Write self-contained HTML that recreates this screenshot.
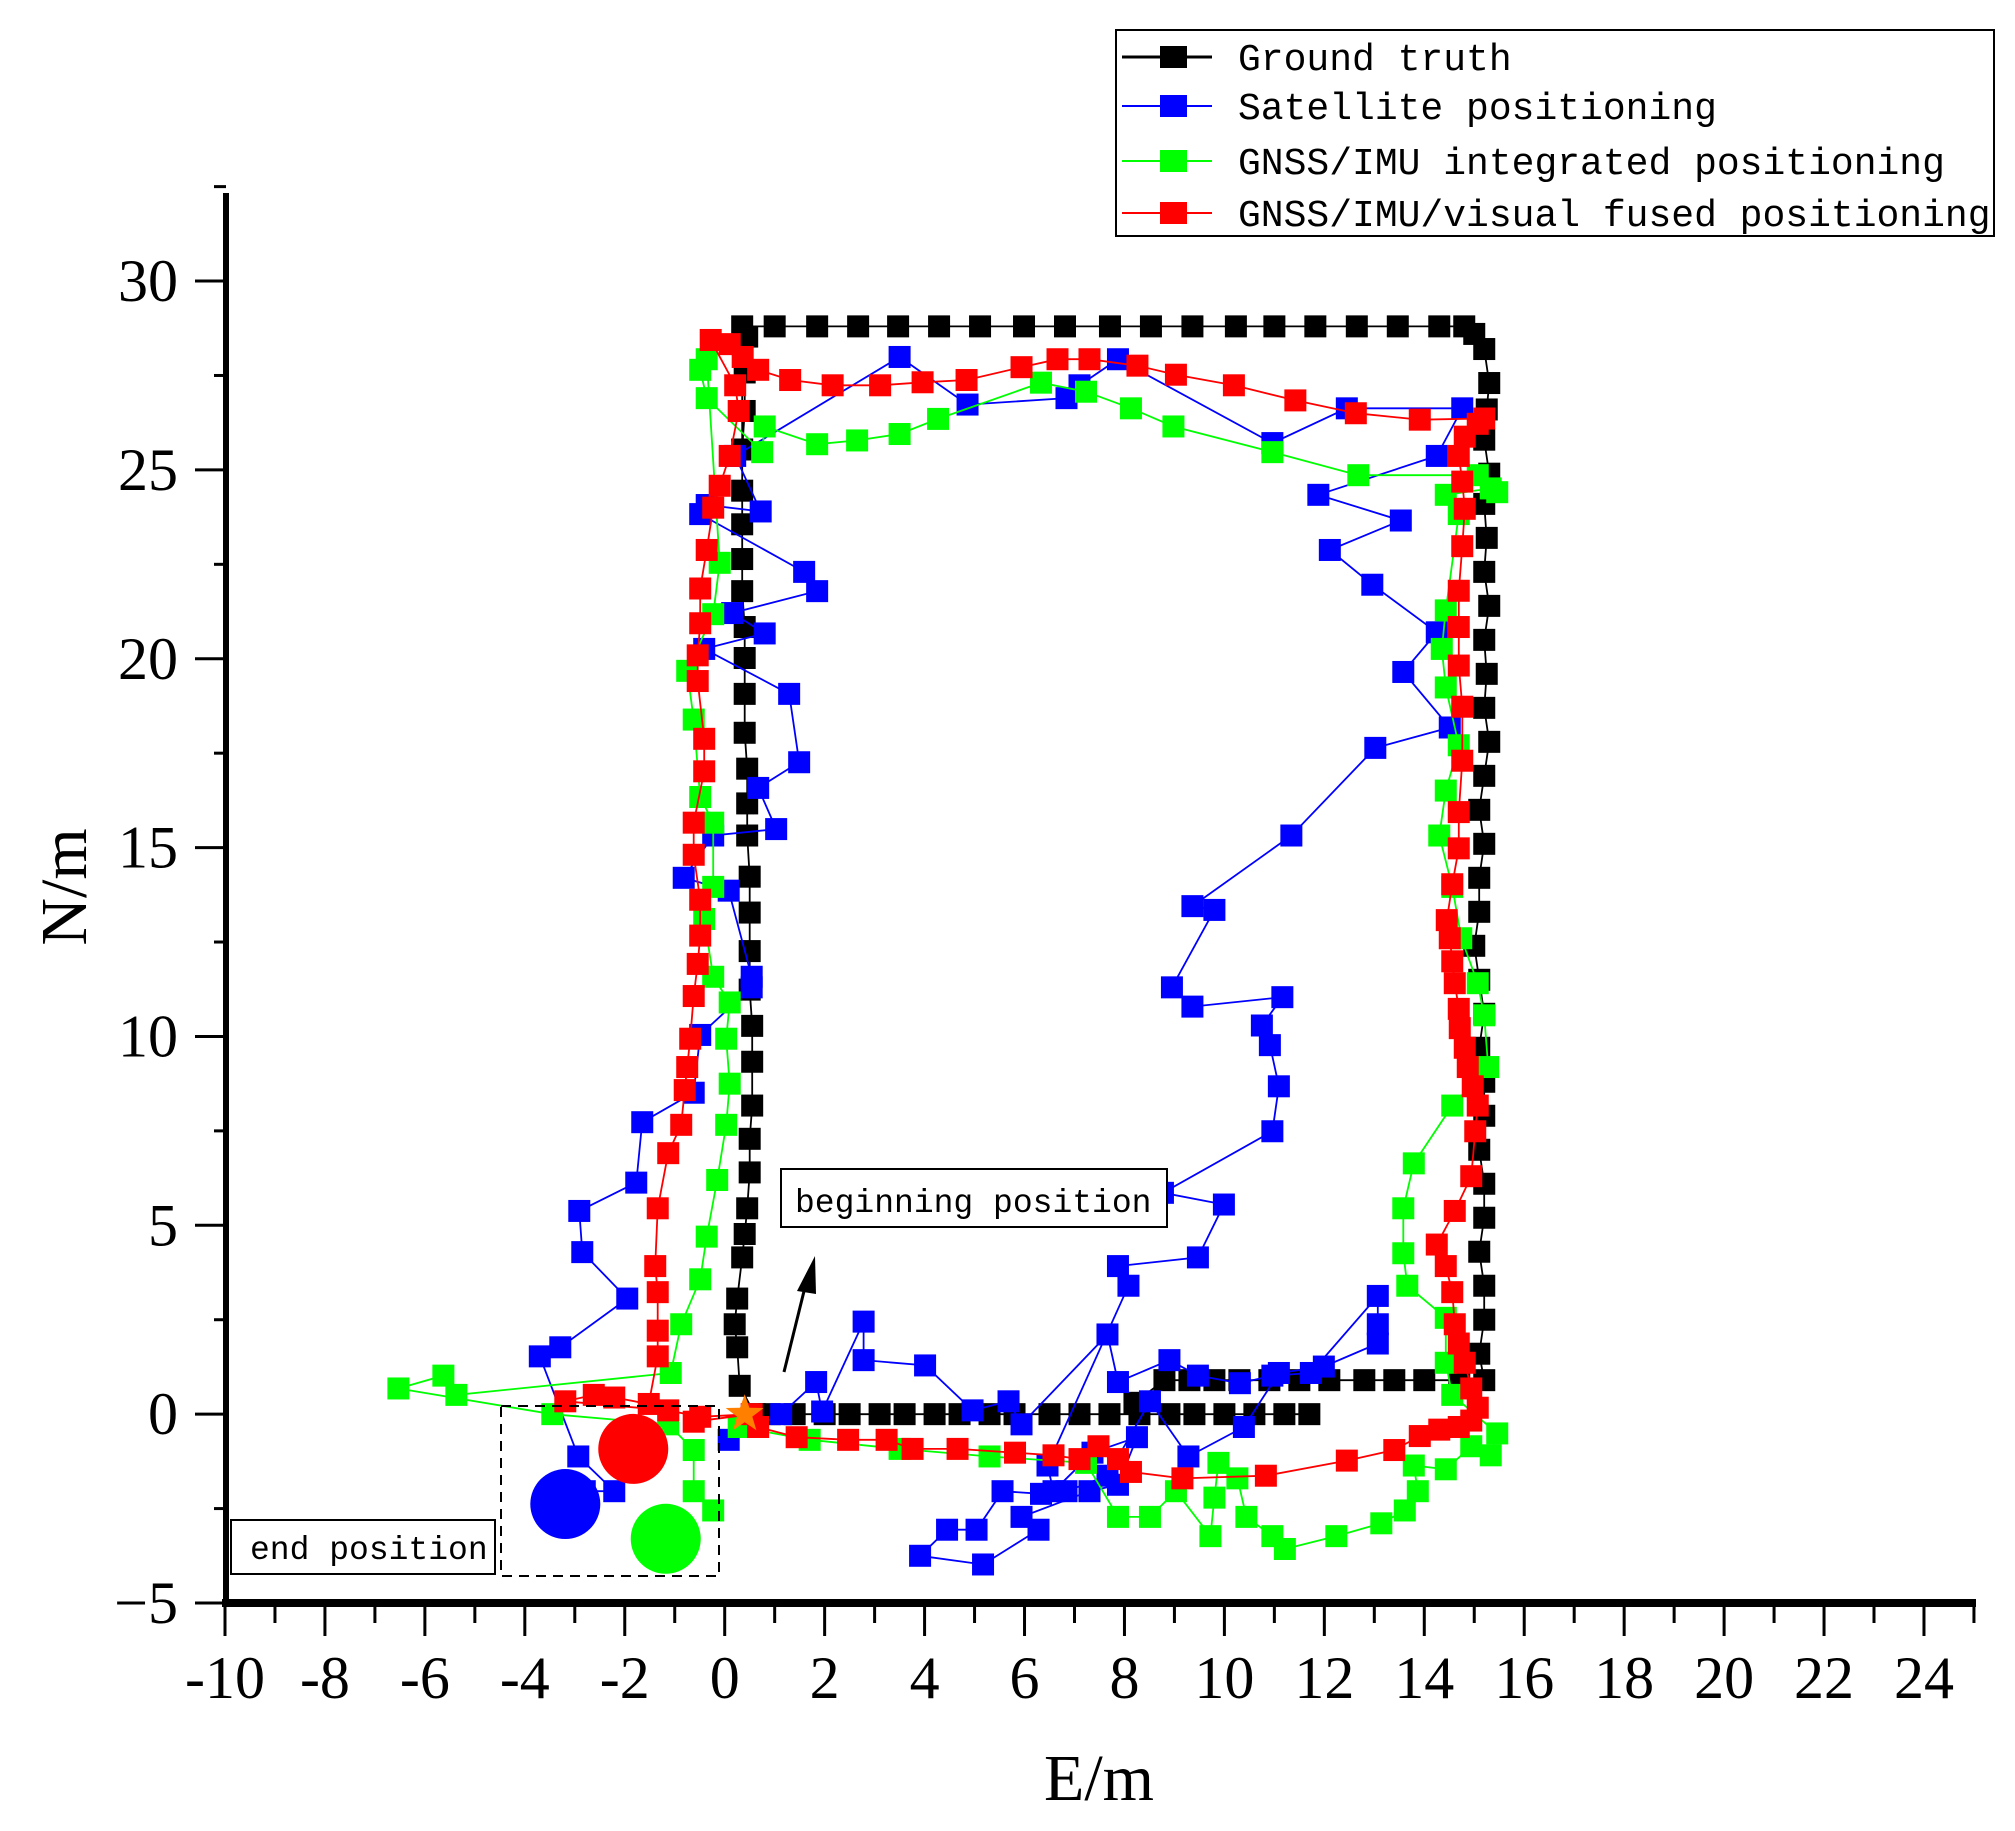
<!DOCTYPE html>
<html><head><meta charset="utf-8"><style>
html,body{margin:0;padding:0;background:#fff;}
svg{display:block;}
text{font-family:"Liberation Serif",serif;}
.mono{font-family:"Liberation Mono",monospace;}
</style></head><body>
<svg id="chart" width="2015" height="1831" viewBox="0 0 2015 1831" xmlns="http://www.w3.org/2000/svg">
<g id="axes"></g>
<g id="series"></g>
<g id="annot"></g>
<g id="legend"></g>
</svg>
<script>
const xTicks=[-10,-8,-6,-4,-2,0,2,4,6,8,10,12,14,16,18,20,22,24];
const yTicks=[-5,0,5,10,15,20,25,30];
const gtX=[11.7,11.2,10.6,10.0,9.4,8.9,8.3,7.7,7.1,6.5,5.8,5.3,4.7,4.2,3.6,3.1,2.5,2.0,1.4,0.9,0.6,0.3,0.25,0.2,0.25,0.35,0.4,0.45,0.5,0.5,0.55,0.55,0.55,0.5,0.5,0.5,0.5,0.45,0.45,0.45,0.4,0.4,0.4,0.4,0.35,0.35,0.35,0.35,0.35,1.0,1.85,2.67,3.47,4.29,5.11,5.99,6.81,7.71,8.53,9.36,10.23,11.0,11.82,12.65,13.47,14.3,14.8,15.0,15.2,15.3,15.25,15.2,15.3,15.2,15.25,15.2,15.3,15.2,15.25,15.2,15.3,15.2,15.1,15.2,15.1,15.1,15.0,15.1,15.2,15.1,15.2,15.2,15.1,15.2,15.2,15.1,15.2,15.2,15.1,15.2,14.7,14.0,13.4,12.8,12.1,11.5,10.9,10.3,9.8,9.3,8.8,8.2];
const gtY=[0,0,0,0,0,0,0,0,0,0,0,0,0,0,0,0,0,0,0,0,0,0.75,1.77,2.38,3.06,4.15,4.77,5.45,6.4,7.29,8.17,9.33,10.28,11.24,12.26,13.28,14.23,15.32,16.17,17.09,18.04,19.07,20.02,20.84,21.79,22.64,23.56,24.45,28.8,28.8,28.8,28.8,28.8,28.8,28.8,28.8,28.8,28.8,28.8,28.8,28.8,28.8,28.8,28.8,28.8,28.8,28.8,28.6,28.2,27.3,26.6,25.8,24.9,24.1,23.2,22.3,21.4,20.5,19.6,18.7,17.8,16.9,16.0,15.1,14.2,13.3,12.4,11.5,10.6,9.7,8.8,7.9,7.0,6.1,5.2,4.3,3.4,2.5,1.6,0.9,0.9,0.9,0.9,0.9,0.9,0.9,0.9,0.9,0.9,0.9,0.9,0.3];
const gtX2=[0.35,0.4,0.4,0.45];
const gtY2=[25.54,26.56,27.58,28.53];
const satX=[0.08,1.13,1.83,1.95,2.78,2.78,4.01,4.96,5.68,5.94,7.66,7.87,8.90,9.47,10.31,10.96,11.73,13.07,13.07,13.07,11.99,11.09,10.39,9.28,8.51,7.66,6.84,6.33,5.56,5.04,4.45,3.91,5.17,6.28,5.94,7.30,7.87,8.25,7.36,6.58,6.46,8.08,7.87,9.47,9.99,8.77,10.96,11.09,10.91,10.75,11.16,9.36,8.95,9.80,9.36,11.34,13.02,14.51,13.58,14.25,12.96,12.11,13.53,11.88,14.25,14.76,12.45,10.96,7.87,7.10,6.84,4.86,3.50,0.21,0.72,-0.36,-0.49,1.59,1.85,0.15,0.80,-0.41,1.29,1.49,0.67,1.03,-0.23,-0.82,0.08,0.54,0.54,-0.49,-0.62,-1.65,-1.77,-2.91,-2.85,-1.95,-3.29,-3.70,-2.93,-2.21,-2.80];
const satY=[-0.68,0,0.85,0.07,2.45,1.43,1.29,0.10,0.34,-0.27,2.11,0.85,1.43,1.02,0.82,1.02,1.09,3.13,2.38,1.87,1.26,1.09,-0.34,-1.12,0.34,-1.63,-2.04,-2.11,-2.04,-3.06,-3.06,-3.75,-3.98,-3.06,-2.72,-2.04,-1.87,-0.61,-1.02,-2.04,-1.36,3.40,3.92,4.15,5.55,5.86,7.49,8.68,9.77,10.29,11.04,10.79,11.30,13.35,13.45,15.32,17.64,18.18,19.65,20.70,21.96,22.88,23.66,24.34,25.37,26.63,26.63,25.71,27.93,27.24,26.90,26.73,27.99,25.37,23.90,24.07,23.83,22.30,21.79,21.21,20.67,20.26,19.07,17.26,16.58,15.49,15.32,14.20,13.86,11.58,11.30,10.04,8.51,7.73,6.13,5.38,4.29,3.06,1.77,1.53,-1.12,-2.04,-2.04];
const insX=[0.28,1.70,3.50,5.30,7.23,7.87,8.51,9.03,9.72,9.80,9.88,10.26,10.44,10.96,11.21,12.24,13.14,13.61,13.87,13.79,14.43,14.94,15.33,15.46,14.56,14.43,14.43,13.66,13.58,13.58,13.79,14.56,15.28,15.20,15.07,14.74,14.56,14.30,14.43,14.69,14.43,14.35,14.43,14.69,14.43,15.33,15.46,15.07,12.68,10.96,8.98,8.13,7.23,6.33,4.27,3.50,2.65,1.85,0.80,0.75,-0.36,-0.49,-0.36,-0.10,-0.23,-0.75,-0.62,-0.49,-0.23,-0.23,-0.41,-0.23,0.10,0.03,0.10,0.03,-0.15,-0.36,-0.49,-0.87,-1.08,-5.37,-5.63,-6.53,-3.45,-1.13,-0.62,-0.62,-0.23];
const insY=[-0.34,-0.68,-0.92,-1.12,-1.29,-2.72,-2.72,-2.04,-3.23,-2.21,-1.29,-1.70,-2.72,-3.23,-3.57,-3.23,-2.89,-2.55,-2.04,-1.36,-1.46,-0.85,-1.09,-0.51,0.51,1.36,2.55,3.40,4.26,5.45,6.64,8.17,9.19,10.56,11.41,12.60,13.96,15.32,16.51,17.71,19.24,20.26,21.28,23.83,24.34,24.51,24.41,24.86,24.86,25.47,26.15,26.63,27.07,27.31,26.35,25.95,25.78,25.68,26.15,25.47,26.90,27.65,27.93,22.54,21.18,19.68,18.39,16.34,15.66,13.96,13.11,11.58,10.90,9.94,8.75,7.66,6.20,4.70,3.57,2.38,1.09,0.51,1.02,0.68,0,-0.27,-0.95,-2.04,-2.55];
const fusX=[0.67,1.44,2.47,3.24,3.76,4.66,5.81,6.58,7.10,7.48,7.87,8.13,9.16,10.83,12.45,13.40,13.91,14.30,14.69,14.94,15.07,14.94,14.81,14.69,14.61,14.56,14.43,14.25,14.61,14.94,15.02,15.07,14.97,14.87,14.81,14.71,14.69,14.61,14.56,14.51,14.45,14.56,14.69,14.69,14.76,14.76,14.69,14.69,14.69,14.76,14.81,14.76,14.69,14.81,15.07,15.20,13.91,12.63,11.42,10.19,9.03,8.26,7.30,6.66,5.94,4.84,3.96,3.11,2.16,1.31,0.67,0.36,0.10,-0.28,0.21,0.28,0.10,-0.10,-0.23,-0.36,-0.49,-0.49,-0.54,-0.54,-0.41,-0.41,-0.62,-0.62,-0.49,-0.49,-0.54,-0.62,-0.69,-0.75,-0.80,-0.87,-1.13,-1.34,-1.39,-1.34,-1.34,-1.34,-1.52,-2.21,-2.62,-3.19,-1.13,-0.49,0.54,-0.62];
const fusY=[-0.34,-0.61,-0.68,-0.68,-0.92,-0.92,-1.02,-1.09,-1.19,-0.85,-1.19,-1.53,-1.70,-1.63,-1.23,-0.95,-0.58,-0.41,-0.34,-0.17,0.17,0.68,1.36,1.87,2.38,3.23,3.92,4.49,5.38,6.30,7.49,8.17,8.68,9.19,9.70,10.22,10.73,11.41,11.99,12.60,13.08,14.03,14.98,15.94,17.30,18.73,19.82,20.84,21.80,22.98,23.97,24.69,25.37,25.88,26.22,26.36,26.33,26.50,26.84,27.24,27.52,27.76,27.93,27.93,27.72,27.38,27.32,27.24,27.24,27.38,27.65,27.99,28.33,28.44,27.24,26.56,25.37,24.58,24.0,22.88,21.86,20.94,20.09,19.41,17.88,17.02,15.66,14.81,13.62,12.67,11.92,11.07,9.94,9.19,8.58,7.66,6.91,5.45,3.92,3.23,2.21,1.53,0.27,0.44,0.51,0.34,0.10,-0.07,0,-0.20];
const endX=[-3.19,-1.83,-1.18];
const endY=[-2.38,-0.92,-3.30];

const NS='http://www.w3.org/2000/svg';
const X0=225,XU=49.97,Y0=1603,YU=37.77;
function xs(v){return X0+(v+10)*XU;}
function ys(v){return Y0-(v+5)*YU;}
function mk(tag,attrs,parent){const e=document.createElementNS(NS,tag);for(const k in attrs)e.setAttribute(k,attrs[k]);parent.appendChild(e);return e;}
const axes=document.getElementById('axes');
const series=document.getElementById('series');
const annot=document.getElementById('annot');
const legend=document.getElementById('legend');

// axis lines
let ya=mk('line',{x1:226,y1:193,x2:226,y2:1607,stroke:'#000','stroke-width':6},axes);


let xa=mk('line',{x1:222,y1:1603,x2:1976,y2:1603,stroke:'#000','stroke-width':8},axes);


// x ticks
for(let v=-10;v<=25;v++){
  const major=(v%2===0);
  const t=mk('line',{x1:xs(v),y1:1603,x2:xs(v),y2:1603+(major?33:20),stroke:'#000','stroke-width':3},axes);
  
  
}
xTicks.forEach(v=>{
  const t=mk('text',{x:xs(v),y:1698,'text-anchor':'middle','font-size':60},axes);
  t.textContent=String(v);
  
  
});
// y ticks
for(let i=0;i<=15;i++){
  const v=-5+i*2.5;
  const major=(i%2===0);
  const t=mk('line',{x1:226,y1:ys(v),x2:226-(major?31:12),y2:ys(v),stroke:'#000','stroke-width':3},axes);
  
  
}
yTicks.forEach(v=>{
  const t=mk('text',{x:178,y:ys(v)+20,'text-anchor':'end','font-size':60},axes);
  t.textContent=v<0?'\u2212'+Math.abs(v):String(v);
  
  
});
let xt=mk('text',{x:1099,y:1800,'text-anchor':'middle','font-size':66},axes);
xt.textContent='E/m';


let yt=mk('text',{x:0,y:0,'text-anchor':'middle','font-size':66,transform:'translate(86,887) rotate(-90)'},axes);
yt.textContent='N/m';



function drawSeries(xsArr,ysArr,color,name,sz){
  const g=mk('g',{},series);
  
  
  let d='';
  for(let i=0;i<xsArr.length;i++){d+=(i?'L':'M')+xs(xsArr[i]).toFixed(1)+' '+ys(ysArr[i]).toFixed(1);}
  const p=mk('path',{d:d,fill:'none',stroke:color,'stroke-width':1.8},g);
  
  
  for(let i=0;i<xsArr.length;i++){
    const r=mk('rect',{x:xs(xsArr[i])-sz/2,y:ys(ysArr[i])-sz/2,width:sz,height:sz,fill:color},g);
    
    
  }
}
drawSeries(gtX,gtY,'#000','ground-truth',22);
drawSeries(gtX2,gtY2,'#000','ground-truth-extra',22);
drawSeries(satX,satY,'#0000ff','satellite-positioning',22);
drawSeries(insX,insY,'#00ff00','gnss-imu-positioning',22);
drawSeries(fusX,fusY,'#ff0000','fused-positioning',22);
const endColors=['#0000ff','#ff0000','#00ff00'];
const endNames=['satellite-end-marker','fused-end-marker','gnss-imu-end-marker'];
for(let i=0;i<endX.length;i++){
  const c=mk('circle',{cx:xs(endX[i]),cy:ys(endY[i]),r:35,fill:endColors[i]},series);
  
  
}
let star=mk('polygon',{points:'',fill:'#ff8000'},series);
(function(){const cx=xs(0.4),cy=ys(0),pts=[];for(let k=0;k<10;k++){const r=k%2?8:20,a=-Math.PI/2+k*Math.PI/5;pts.push((cx+r*Math.cos(a)).toFixed(1)+','+(cy+r*Math.sin(a)).toFixed(1));}star.setAttribute('points',pts.join(' '));})();



// annotations
let bb=mk('rect',{x:781,y:1169,width:386,height:58,fill:'#fff',stroke:'#000','stroke-width':2},annot);


let bt=mk('text',{x:795,y:1212,'font-size':33,'class':'mono'},annot);
bt.textContent='beginning position';


let al=mk('line',{x1:784,y1:1372,x2:808,y2:1275,stroke:'#000','stroke-width':3},annot);


let ah=mk('polygon',{points:'815,1256 797,1291 816,1294',fill:'#000'},annot);


let eb=mk('rect',{x:231,y:1520,width:264,height:54,fill:'#fff',stroke:'#000','stroke-width':2},annot);


let et=mk('text',{x:250,y:1559,'font-size':33,'class':'mono'},annot);
et.textContent='end position';


let db=mk('rect',{x:501,y:1406,width:218,height:170,fill:'none',stroke:'#000','stroke-width':2,'stroke-dasharray':'10,7'},annot);



// legend
let lb=mk('rect',{x:1116,y:30,width:878,height:206,fill:'#fff',stroke:'#000','stroke-width':2},legend);


const legNames=['Ground truth','Satellite positioning','GNSS/IMU integrated positioning','GNSS/IMU/visual fused positioning'];
const legColors=['#000','#0000ff','#00ff00','#ff0000'];
const legY=[57,106,161,213];
for(let i=0;i<4;i++){
  const g=mk('g',{},legend);
  
  
  mk('line',{x1:1122,y1:legY[i],x2:1212,y2:legY[i],stroke:legColors[i],'stroke-width':i===0?3:2},g);
  mk('rect',{x:1160,y:legY[i]-11,width:27,height:22,fill:legColors[i]},g);
  const t=mk('text',{x:1238,y:legY[i]+13,'font-size':38,'class':'mono'},g);
  t.textContent=legNames[i];
}
</script>
</body></html>
